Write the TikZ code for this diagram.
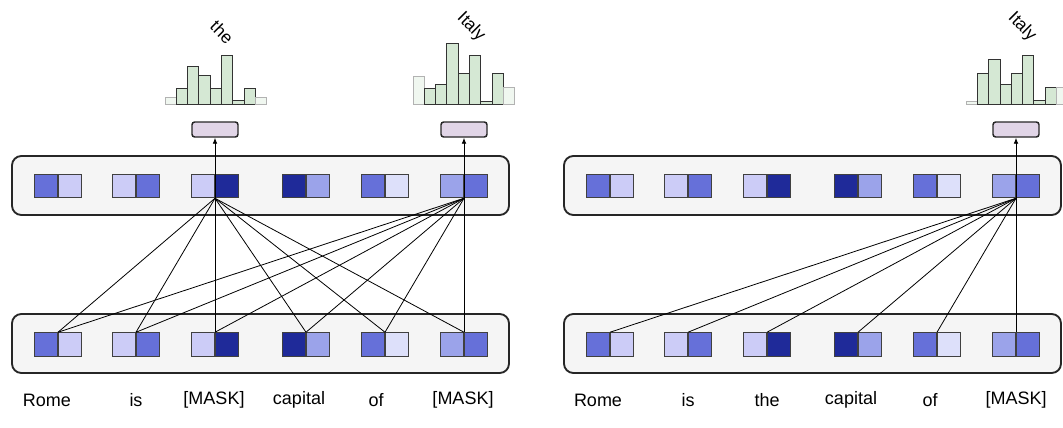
\documentclass[tikz,border=0pt]{standalone}
\usepackage{fontspec}
\setmainfont{Liberation Sans}
\usetikzlibrary{arrows.meta,positioning}
\definecolor{tokmid}{RGB}{102,112,217}
\definecolor{toklight}{RGB}{204,204,247}
\definecolor{tokdark}{RGB}{31,42,153}
\definecolor{tokmidlight}{RGB}{155,163,234}
\definecolor{toklighter}{RGB}{221,224,250}
\definecolor{layerfill}{RGB}{245,245,245}
\definecolor{outfill}{RGB}{225,213,231}
\definecolor{histfill}{RGB}{213,232,212}
\newcommand{\wordsize}{\fontsize{13.5}{16}\selectfont}
\newcommand{\predsize}{\fontsize{13}{15}\selectfont}
\tikzset{
layerbox/.style={
  draw=black!85,
  fill=layerfill,
  rounded corners=7pt,
  line width=1.4pt,
  minimum width=372.75pt,
  minimum height=44.25pt,
  inner sep=0pt
},
cell/.style={
  draw=black!75,
  line width=0.8pt,
  minimum width=17.25pt,
  minimum height=17.6pt,
  inner sep=0pt
},
outbox/.style={
  draw=black!85,
  fill=outfill,
  rounded corners=2pt,
  line width=1.1pt,
  minimum width=34.5pt,
  minimum height=11.25pt,
  inner sep=0pt
},
link/.style={
  line width=0.6pt,
  draw=black
},
outarrow/.style={
  -{Latex[length=4.5pt,width=3.5pt]},
  line width=0.6pt,
  draw=black
},
bar/.style={
  draw=black!80,
  fill=histfill,
  line width=0.75pt
},
fadedbar/.style={
  draw=black!30,
  fill=histfill!35,
  line width=0.75pt
},
wordlabel/.style={
  font=\wordsize,
  inner sep=0pt
},
predlabel/.style={
  font=\predsize,
  inner sep=0pt,
  rotate=-45
}
}

\begin{document}
\begin{tikzpicture}[x=0.75pt, y=-0.75pt]
\useasboundingbox (0,0) rectangle (1063,428);
\clip (0,0) rectangle (1063,428);

% ============================================================================
% LAYERS
% ============================================================================
\node[layerbox] (ltop) at (260.5,185.5) {};
\node[layerbox] (lbot) at (260.5,343.5) {};
\node[layerbox] (rtop) at (812.5,185.5) {};
\node[layerbox] (rbot) at (812.5,343.5) {};

% token embeddings (two cells per token)
\foreach \p/\dx in {l/0, r/552} {
  \foreach \x/\ca/\cb [count=\i] in {58/tokmid/toklight, 136/toklight/tokmid,
      215/toklight/tokdark, 306/tokdark/tokmidlight,
      385/tokmid/toklighter, 464/tokmidlight/tokmid} {
    \node[cell, fill=\ca, anchor=east] (\p t\i-a) at (\x+\dx,186) {};
    \node[cell, fill=\cb, anchor=west] (\p t\i-b) at (\x+\dx,186) {};
    \node[cell, fill=\ca, anchor=east] (\p b\i-a) at (\x+\dx,344.5) {};
    \node[cell, fill=\cb, anchor=west] (\p b\i-b) at (\x+\dx,344.5) {};
  }
}

% ============================================================================
% ATTENTION LINKS
% ============================================================================
\foreach \j in {1,...,6} {
  \draw[link] (lb\j-a.north east) -- (lt3-a.south east);
  \draw[link] (lb\j-a.north east) -- (lt6-a.south east);
  \draw[link] (rb\j-a.north east) -- (rt6-a.south east);
}

% ============================================================================
% OUTPUTS
% ============================================================================
\node[outbox] (lout3) at (215,129.5) {};
\node[outbox] (lout6) at (464,129.5) {};
\node[outbox] (rout6) at (1016,129.5) {};
\draw[outarrow] (lt3-a.south east) -- (lout3.south);
\draw[outarrow] (lt6-a.south east) -- (lout6.south);
\draw[outarrow] (rt6-a.south east) -- (rout6.south);

% histograms
\foreach \xs/\hl/\hs/\hr in {
    165/7/{15,37,28,15,48,4,15}/7,
    413/27/{15,19,60,30,48,3,30}/16,
    966/3/{30,44,19,30,48,4,16}/16} {
  \draw[fadedbar] (\xs,104) rectangle ++(11.33,-\hl);
  \foreach \h [count=\k] in \hs
    \draw[bar] (\xs+\k*11.33,104) rectangle ++(11.33,-\h);
  \draw[fadedbar] (\xs+8*11.33,104) rectangle ++(11.33,-\hr);
}

\node[predlabel] (pred1) at (222,32) {the};
\node[predlabel] (pred2) at (471,27) {Italy};
\node[predlabel] (pred3) at (1022,27) {Italy};

% ============================================================================
% INPUT WORDS
% ============================================================================
\foreach \x/\w [count=\i] in {47/Rome, 136/is, 214/[MASK], 299/capital,
    376/of, 463/[MASK]}
  \node[wordlabel] (lw\i) at (\x,400) {\w};
\foreach \x/\w [count=\i] in {598/Rome, 688/is, 767/the, 851/capital,
    930/of, 1016/[MASK]}
  \node[wordlabel] (rw\i) at (\x,400) {\w};

\end{tikzpicture}
\end{document}
